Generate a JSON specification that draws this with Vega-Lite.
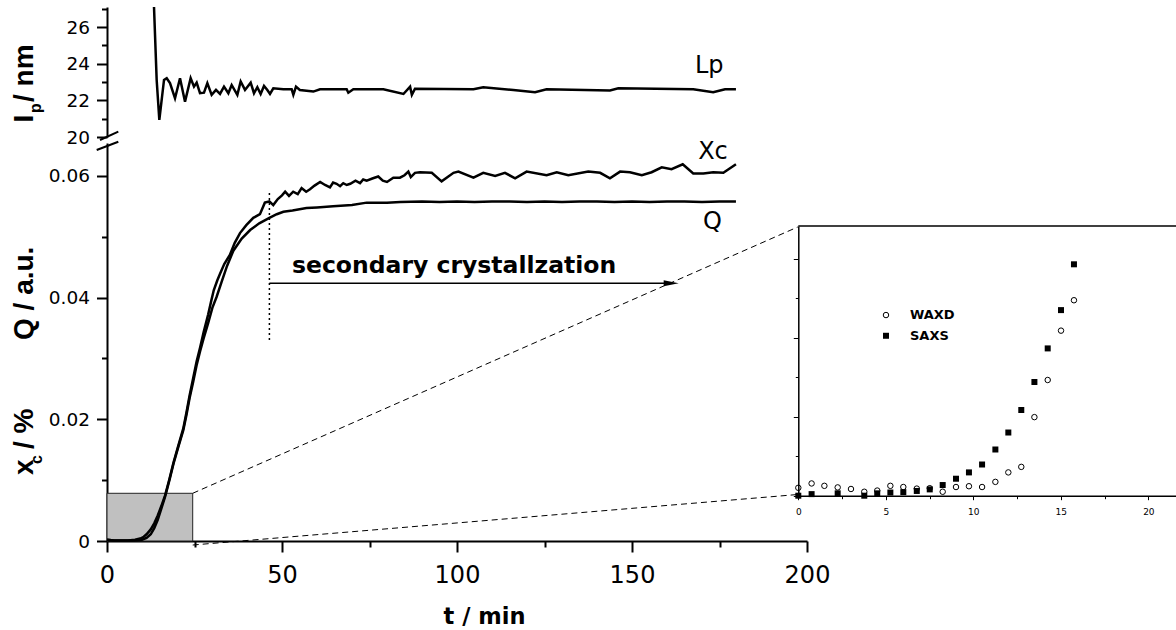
{
  "$schema": "https://vega.github.io/schema/vega-lite/v6.json",
  "width": 1069,
  "height": 541,
  "autosize": {"type": "none"},
  "padding": {"left": 107, "top": 0, "right": 0, "bottom": 89},
  "background": "white",
  "config": {
    "view": {"stroke": null},
    "axis": {"grid": false, "domainColor": "#000", "tickColor": "#000", "labelColor": "#000", "labelFont": "DejaVu Sans", "labelFlush": false, "labelOverlap": false},
    "text": {"font": "DejaVu Sans", "color": "#000"},
    "line": {"color": "#000"},
    "rule": {"color": "#000"}
  },
  "datasets": {
    "xc": [
      {"t":0,"v":0.0002},{"t":2,"v":0.0001},{"t":4,"v":0.0001},{"t":6,"v":0.0001},{"t":8,"v":0.0002},{"t":9.5,"v":0.0004},{"t":10.5,"v":0.0007},{"t":11.3,"v":0.0011},{"t":12.5,"v":0.0019},{"t":13.5,"v":0.0029},{"t":14.5,"v":0.0042},{"t":15.5,"v":0.0057},{"t":16.6,"v":0.0075},{"t":17.8,"v":0.0101},{"t":19,"v":0.0129},{"t":20.4,"v":0.0157},{"t":21.8,"v":0.0185},{"t":22.7,"v":0.0211},{"t":23.6,"v":0.0239},{"t":24.6,"v":0.0267},{"t":25.6,"v":0.0295},{"t":26.6,"v":0.0318},{"t":27.6,"v":0.0343},{"t":28.9,"v":0.0372},{"t":29.8,"v":0.0395},{"t":30.5,"v":0.0412},{"t":31.5,"v":0.0428},{"t":32.3,"v":0.0439},{"t":33.5,"v":0.0455},{"t":35.1,"v":0.047},{"t":36.5,"v":0.049},{"t":38,"v":0.0506},{"t":39.8,"v":0.0519},{"t":41.8,"v":0.0531},{"t":43.7,"v":0.0537},{"t":45.1,"v":0.0556},{"t":46.4,"v":0.0558},{"t":47.5,"v":0.0552},{"t":48.8,"v":0.0562},{"t":50,"v":0.0568},{"t":50.9,"v":0.0574},{"t":52,"v":0.0567},{"t":53.2,"v":0.0574},{"t":54.5,"v":0.057},{"t":55.6,"v":0.058},{"t":56.9,"v":0.0574},{"t":58,"v":0.0578},{"t":59.3,"v":0.0584},{"t":60.9,"v":0.059},{"t":62.3,"v":0.0585},{"t":63.7,"v":0.0581},{"t":64.6,"v":0.0589},{"t":65.6,"v":0.0587},{"t":66.6,"v":0.0583},{"t":67.5,"v":0.0588},{"t":68.5,"v":0.0585},{"t":69.5,"v":0.0587},{"t":71,"v":0.0592},{"t":72.3,"v":0.0588},{"t":73.2,"v":0.0594},{"t":74.2,"v":0.0592},{"t":76,"v":0.0596},{"t":77.5,"v":0.0599},{"t":78.8,"v":0.0592},{"t":80,"v":0.059},{"t":81.8,"v":0.0597},{"t":83.7,"v":0.0597},{"t":85,"v":0.0601},{"t":86.1,"v":0.0607},{"t":86.8,"v":0.0598},{"t":88,"v":0.0605},{"t":89.4,"v":0.0606},{"t":92.8,"v":0.0605},{"t":95.6,"v":0.0591},{"t":99,"v":0.0605},{"t":100.4,"v":0.0607},{"t":104.7,"v":0.0597},{"t":107.5,"v":0.0605},{"t":110.9,"v":0.06},{"t":113.7,"v":0.0605},{"t":116.6,"v":0.0596},{"t":119.9,"v":0.0607},{"t":125.6,"v":0.0601},{"t":128.5,"v":0.0606},{"t":131.8,"v":0.0601},{"t":137.5,"v":0.0607},{"t":140.9,"v":0.0605},{"t":143.7,"v":0.0596},{"t":146.6,"v":0.0607},{"t":149.4,"v":0.0606},{"t":152.8,"v":0.0601},{"t":155.6,"v":0.0606},{"t":158.5,"v":0.0614},{"t":161.3,"v":0.0611},{"t":164.5,"v":0.0619},{"t":167.5,"v":0.0604},{"t":170.4,"v":0.0604},{"t":173.2,"v":0.0606},{"t":176.1,"v":0.0605},{"t":179.7,"v":0.0619}
    ],
    "q": [
      {"t":0,"v":0.0002},{"t":2,"v":0.0001},{"t":4,"v":0.0001},{"t":6,"v":0.0001},{"t":8,"v":0.0001},{"t":10,"v":0.0002},{"t":11.3,"v":0.0005},{"t":12.5,"v":0.0011},{"t":13.5,"v":0.0021},{"t":14.5,"v":0.0035},{"t":15.5,"v":0.0053},{"t":16.6,"v":0.0073},{"t":17.8,"v":0.0099},{"t":19,"v":0.0127},{"t":20.4,"v":0.0155},{"t":21.8,"v":0.0182},{"t":22.7,"v":0.0207},{"t":23.6,"v":0.0235},{"t":24.6,"v":0.0261},{"t":25.6,"v":0.0289},{"t":26.6,"v":0.0312},{"t":27.6,"v":0.0333},{"t":28.9,"v":0.0358},{"t":30.1,"v":0.0383},{"t":31.3,"v":0.0401},{"t":32.7,"v":0.0425},{"t":34.3,"v":0.0452},{"t":36.1,"v":0.0477},{"t":38.5,"v":0.0497},{"t":40.9,"v":0.0511},{"t":43.5,"v":0.0522},{"t":46.4,"v":0.0531},{"t":48.5,"v":0.0537},{"t":50.4,"v":0.0541},{"t":53,"v":0.0543},{"t":57,"v":0.0547},{"t":60,"v":0.0548},{"t":64.6,"v":0.055},{"t":70,"v":0.0552},{"t":74.2,"v":0.0556},{"t":80,"v":0.0556},{"t":83.8,"v":0.0557},{"t":90,"v":0.0558},{"t":95,"v":0.0557},{"t":100,"v":0.0558},{"t":105,"v":0.0557},{"t":110,"v":0.0558},{"t":115,"v":0.0558},{"t":120,"v":0.0557},{"t":125,"v":0.0558},{"t":130,"v":0.0557},{"t":135,"v":0.0558},{"t":140,"v":0.0558},{"t":145,"v":0.0557},{"t":150,"v":0.0558},{"t":155,"v":0.0557},{"t":160,"v":0.0558},{"t":165,"v":0.0558},{"t":170,"v":0.0557},{"t":175,"v":0.0558},{"t":179.7,"v":0.0558}
    ],
    "lp": [
      {"t":13.43,"lp":27.1},{"t":14.19,"lp":23.12},{"t":14.95,"lp":20.93},{"t":16.29,"lp":23.12},{"t":17.05,"lp":23.21},{"t":18.0,"lp":22.94},{"t":19.43,"lp":22.12},{"t":20.86,"lp":23.21},{"t":22.29,"lp":21.93},{"t":23.9,"lp":23.21},{"t":24.86,"lp":22.75},{"t":25.62,"lp":22.97},{"t":26.57,"lp":22.39},{"t":27.71,"lp":22.42},{"t":28.67,"lp":22.94},{"t":29.9,"lp":22.3},{"t":31.14,"lp":22.57},{"t":32.29,"lp":22.35},{"t":33.43,"lp":22.75},{"t":34.67,"lp":22.39},{"t":35.62,"lp":22.84},{"t":37.24,"lp":22.3},{"t":38.19,"lp":23.03},{"t":39.43,"lp":22.57},{"t":41.05,"lp":22.97},{"t":42.0,"lp":22.39},{"t":42.95,"lp":22.72},{"t":43.9,"lp":22.35},{"t":44.86,"lp":22.79},{"t":45.81,"lp":22.57},{"t":46.57,"lp":22.35},{"t":47.52,"lp":22.66},{"t":50.38,"lp":22.61},{"t":52.76,"lp":22.61},{"t":53.24,"lp":22.3},{"t":54.0,"lp":22.75},{"t":55.1,"lp":22.57},{"t":58.95,"lp":22.48},{"t":60.86,"lp":22.61},{"t":68.48,"lp":22.61},{"t":68.95,"lp":22.42},{"t":70.38,"lp":22.61},{"t":78.95,"lp":22.61},{"t":84.7,"lp":22.35},{"t":86.6,"lp":22.75},{"t":87.1,"lp":22.3},{"t":88.0,"lp":22.64},{"t":104.7,"lp":22.61},{"t":107.5,"lp":22.72},{"t":116.1,"lp":22.57},{"t":122.3,"lp":22.44},{"t":125.6,"lp":22.61},{"t":143.7,"lp":22.54},{"t":146.1,"lp":22.66},{"t":167.5,"lp":22.61},{"t":173.2,"lp":22.44},{"t":176.6,"lp":22.61},{"t":179.7,"lp":22.61}
    ],
    "waxd": [
      {"x":0,"y":0.2},{"x":0.76,"y":0.31},{"x":1.49,"y":0.25},{"x":2.25,"y":0.21},{"x":3.01,"y":0.17},{"x":3.77,"y":0.1},{"x":4.51,"y":0.13},{"x":5.26,"y":0.25},{"x":6.0,"y":0.22},{"x":6.77,"y":0.18},{"x":7.51,"y":0.19},{"x":8.25,"y":0.1},{"x":9.01,"y":0.22},{"x":9.75,"y":0.24},{"x":10.5,"y":0.22},{"x":11.26,"y":0.35},{"x":12.0,"y":0.59},{"x":12.74,"y":0.73},{"x":13.49,"y":1.99},{"x":14.25,"y":2.93},{"x":15.01,"y":4.18},{"x":15.75,"y":4.95}
    ],
    "saxs": [
      {"x":0,"y":0.0},{"x":0.76,"y":0.04},{"x":2.25,"y":0.06},{"x":3.77,"y":0.0},{"x":4.51,"y":0.06},{"x":5.26,"y":0.08},{"x":6.0,"y":0.09},{"x":6.77,"y":0.12},{"x":7.51,"y":0.16},{"x":8.25,"y":0.27},{"x":9.01,"y":0.43},{"x":9.75,"y":0.59},{"x":10.5,"y":0.79},{"x":11.26,"y":1.17},{"x":12.0,"y":1.6},{"x":12.74,"y":2.17},{"x":13.49,"y":2.88},{"x":14.25,"y":3.73},{"x":15.01,"y":4.7},{"x":15.75,"y":5.86}
    ]
  },
  "layer": [
    {
      "layer": [
        {
          "data": {"values": [{"t": 0, "t2": 24.49, "v": 0, "v2": 0.00784}]},
          "mark": {"type": "rect", "fill": "#c0c0c0", "stroke": "#222", "strokeWidth": 1},
          "encoding": {
            "x": {"field": "t", "type": "quantitative",
              "scale": {"domain": [0, 200], "range": [0, 700], "nice": false, "zero": false},
              "axis": {"orient": "bottom", "values": [0,25,50,75,100,125,150,175,200],
                "labelExpr": "datum.value % 50 === 0 ? format(datum.value, 'd') : ''",
                "tickSize": {"condition": {"test": "datum.value % 50 === 0", "value": 11}, "value": 6},
                "labelFontSize": 24, "labelPadding": 11, "domainWidth": 2, "tickWidth": 2,
                "title": "t / min", "titleFont": "DejaVu Sans", "titleFontWeight": "bold", "titleFontSize": 22.5,
                "titleX": 377, "titleY": 82, "titleBaseline": "alphabetic", "titleAlign": "center", "titleColor": "#000"}},
            "x2": {"field": "t2"},
            "y": {"field": "v", "type": "quantitative",
              "scale": {"domain": [0, 0.0654], "range": [541, 143], "nice": false, "zero": false},
              "axis": {"orient": "left", "values": [0,0.01,0.02,0.03,0.04,0.05,0.06],
                "labelExpr": "round(datum.value*100) % 2 === 0 ? (datum.value === 0 ? '0' : format(datum.value, '.2f')) : ''",
                "tickSize": {"condition": {"test": "round(datum.value*100) % 2 === 0", "value": 10.5}, "value": 5.5},
                "labelFontSize": 18.5, "labelPadding": 7, "domainWidth": 2, "tickWidth": 2, "title": null}},
            "y2": {"field": "v2"}
          }
        },
        {
          "data": {"values": [{"t": 24.49, "v": 0.00784, "t2": 197.37, "v2": 0.0516}, {"t": 24.49, "v": -0.00066, "t2": 197.37, "v2": 0.00764}]},
          "mark": {"type": "rule", "strokeDash": [6, 4], "strokeWidth": 1},
          "encoding": {
            "x": {"field": "t", "type": "quantitative"}, "x2": {"field": "t2"},
            "y": {"field": "v", "type": "quantitative"}, "y2": {"field": "v2"}
          }
        },
        {
          "data": {"name": "q"},
          "mark": {"type": "line", "strokeWidth": 2.5, "color": "#000"},
          "encoding": {
            "x": {"field": "t", "type": "quantitative"},
            "y": {"field": "v", "type": "quantitative"}
          }
        },
        {
          "data": {"name": "xc"},
          "mark": {"type": "line", "strokeWidth": 2.5, "color": "#000"},
          "encoding": {
            "x": {"field": "t", "type": "quantitative"},
            "y": {"field": "v", "type": "quantitative"}
          }
        },
        {
          "data": {"values": [{"t": 46.4, "v": 0.03303, "v2": 0.05718}]},
          "mark": {"type": "rule", "strokeDash": [2, 3], "strokeWidth": 1.5},
          "encoding": {
            "x": {"field": "t", "type": "quantitative"},
            "y": {"field": "v", "type": "quantitative"}, "y2": {"field": "v2"}
          }
        },
        {
          "data": {"values": [{"t": 46.4, "t2": 161.2, "v": 0.04234}]},
          "mark": {"type": "rule", "strokeWidth": 1.5},
          "encoding": {
            "x": {"field": "t", "type": "quantitative"}, "x2": {"field": "t2"},
            "y": {"field": "v", "type": "quantitative"}
          }
        },
        {
          "data": {"values": [{"t": 161.2, "v": 0.04234}]},
          "mark": {"type": "point", "shape": "M-1,-0.4L1,0L-1,0.4Z", "filled": true, "size": 225, "color": "#000", "opacity": 1},
          "encoding": {
            "x": {"field": "t", "type": "quantitative"},
            "y": {"field": "v", "type": "quantitative"}
          }
        },
        {
          "data": {"values": [{"t": 52.86, "v": 0.04408, "label": "secondary crystallzation"}]},
          "mark": {"type": "text", "align": "left", "baseline": "alphabetic", "fontSize": 23.5, "fontWeight": "bold", "font": "DejaVu Sans"},
          "encoding": {
            "x": {"field": "t", "type": "quantitative"},
            "y": {"field": "v", "type": "quantitative"},
            "text": {"field": "label"}
          }
        },
        {
          "data": {"values": [{"t": 168.9, "v": 0.06272, "label": "Xc"}, {"t": 170.3, "v": 0.05123, "label": "Q"}]},
          "mark": {"type": "text", "align": "left", "baseline": "alphabetic", "fontSize": 24, "font": "DejaVu Sans"},
          "encoding": {
            "x": {"field": "t", "type": "quantitative"},
            "y": {"field": "v", "type": "quantitative"},
            "text": {"field": "label"}
          }
        },
        {
          "data": {"values": [{"t": -21.14, "v": 0.03303, "label": "Q / a.u."}, {"t": -21.14, "v": 0.01084, "label": "x"}, {"t": -21.14, "v": 0.01512, "label": "/ %"}]},
          "mark": {"type": "text", "align": "left", "baseline": "alphabetic", "angle": 270, "fontSize": 28, "fontWeight": "bold", "font": "Liberation Sans"},
          "encoding": {
            "x": {"field": "t", "type": "quantitative"},
            "y": {"field": "v", "type": "quantitative"},
            "text": {"field": "label"}
          }
        },
        {
          "data": {"values": [{"t": -18.57, "v": 0.01265, "label": "c"}]},
          "mark": {"type": "text", "align": "left", "baseline": "alphabetic", "angle": 270, "fontSize": 16, "fontWeight": "bold", "font": "Liberation Sans"},
          "encoding": {
            "x": {"field": "t", "type": "quantitative"},
            "y": {"field": "v", "type": "quantitative"},
            "text": {"field": "label"}
          }
        }
      ]
    },
    {
      "layer": [
        {
          "data": {"name": "lp"},
          "mark": {"type": "line", "strokeWidth": 2.5, "color": "#000"},
          "encoding": {
            "x": {"field": "t", "type": "quantitative", "scale": {"domain": [0, 200], "range": [0, 700], "nice": false, "zero": false}, "axis": null},
            "y": {"field": "lp", "type": "quantitative",
              "scale": {"domain": [20, 27.1], "range": [137, 7], "nice": false, "zero": false},
              "axis": {"orient": "left", "values": [20,21,22,23,24,25,26,27],
                "labelExpr": "datum.value % 2 === 0 ? format(datum.value, 'd') : ''",
                "tickSize": {"condition": {"test": "datum.value % 2 === 0", "value": 10.5}, "value": 5.5},
                "labelFontSize": 18.5, "labelPadding": 7, "domainWidth": 2, "tickWidth": 2, "title": null}}
          }
        },
        {
          "data": {"values": [{"t": 168, "lp": 23.485, "label": "Lp"}]},
          "mark": {"type": "text", "align": "left", "baseline": "alphabetic", "fontSize": 24, "font": "DejaVu Sans"},
          "encoding": {
            "x": {"field": "t", "type": "quantitative", "axis": null},
            "y": {"field": "lp", "type": "quantitative"},
            "text": {"field": "label"}
          }
        },
        {
          "data": {"values": [{"t": -2.0, "t2": 3.23, "lp": 19.836, "lp2": 20.29}, {"t": -2.94, "t2": 3.23, "lp": 19.289, "lp2": 19.743}]},
          "mark": {"type": "rule", "strokeWidth": 2},
          "encoding": {
            "x": {"field": "t", "type": "quantitative", "axis": null}, "x2": {"field": "t2"},
            "y": {"field": "lp", "type": "quantitative"}, "y2": {"field": "lp2"}
          }
        },
        {
          "data": {"values": [{"t": -21.14, "lp": 20.79, "label": "I"}, {"t": -21.14, "lp": 21.91, "label": "/ nm"}]},
          "mark": {"type": "text", "align": "left", "baseline": "alphabetic", "angle": 270, "fontSize": 28, "fontWeight": "bold", "font": "Liberation Sans"},
          "encoding": {
            "x": {"field": "t", "type": "quantitative", "axis": null},
            "y": {"field": "lp", "type": "quantitative"},
            "text": {"field": "label"}
          }
        },
        {
          "data": {"values": [{"t": -18.86, "lp": 21.31, "label": "p"}]},
          "mark": {"type": "text", "align": "left", "baseline": "alphabetic", "angle": 270, "fontSize": 16, "fontWeight": "bold", "font": "Liberation Sans"},
          "encoding": {
            "x": {"field": "t", "type": "quantitative", "axis": null},
            "y": {"field": "lp", "type": "quantitative"},
            "text": {"field": "label"}
          }
        }
      ]
    },
    {
      "layer": [
        {
          "data": {"name": "waxd"},
          "mark": {"type": "point", "shape": "circle", "filled": false, "size": 30, "stroke": "#000", "strokeWidth": 1, "opacity": 1},
          "encoding": {
            "x": {"field": "x", "type": "quantitative",
              "scale": {"domain": [0, 21.58], "range": [691.3, 1069], "nice": false, "zero": false},
              "axis": {"orient": "bottom", "offset": -45.3, "values": [0,2.5,5,7.5,10,12.5,15,17.5,20],
                "labelExpr": "datum.value % 5 === 0 ? format(datum.value, 'd') : ''",
                "tickSize": {"condition": {"test": "datum.value % 5 === 0", "value": 4}, "value": 3},
                "labelFontSize": 9, "labelPadding": 8, "domainWidth": 1.5, "tickWidth": 1, "title": null}},
            "y": {"field": "y", "type": "quantitative",
              "scale": {"domain": [0, 6.83], "range": [495.7, 226], "nice": false, "zero": false},
              "axis": {"orient": "left", "offset": -691.3, "values": [0,1,2,3,4,5,6], "labels": false,
                "tickSize": {"condition": {"test": "datum.value % 2 === 0", "value": 5}, "value": 3},
                "domainWidth": 1.5, "tickWidth": 1, "title": null}}
          }
        },
        {
          "data": {"name": "saxs"},
          "mark": {"type": "point", "shape": "square", "filled": true, "size": 36, "color": "#000", "opacity": 1},
          "encoding": {
            "x": {"field": "x", "type": "quantitative"},
            "y": {"field": "y", "type": "quantitative"}
          }
        },
        {
          "data": {"values": [{"x": 0, "x2": 21.58, "y": 6.83}]},
          "mark": {"type": "rule", "strokeWidth": 1.5},
          "encoding": {
            "x": {"field": "x", "type": "quantitative"}, "x2": {"field": "x2"},
            "y": {"field": "y", "type": "quantitative"}
          }
        },
        {
          "data": {"values": [{"x": 5.01, "y": 4.575}]},
          "mark": {"type": "point", "shape": "circle", "filled": false, "size": 30, "stroke": "#000", "strokeWidth": 1, "opacity": 1},
          "encoding": {
            "x": {"field": "x", "type": "quantitative"},
            "y": {"field": "y", "type": "quantitative"}
          }
        },
        {
          "data": {"values": [{"x": 5.01, "y": 4.05}]},
          "mark": {"type": "point", "shape": "square", "filled": true, "size": 36, "color": "#000", "opacity": 1},
          "encoding": {
            "x": {"field": "x", "type": "quantitative"},
            "y": {"field": "y", "type": "quantitative"}
          }
        },
        {
          "data": {"values": [{"x": 6.38, "y": 4.575, "label": "WAXD"}, {"x": 6.38, "y": 4.04, "label": "SAXS"}]},
          "mark": {"type": "text", "align": "left", "baseline": "middle", "fontSize": 13, "fontWeight": "bold", "font": "DejaVu Sans"},
          "encoding": {
            "x": {"field": "x", "type": "quantitative"},
            "y": {"field": "y", "type": "quantitative"},
            "text": {"field": "label"}
          }
        }
      ]
    }
  ],
  "resolve": {"scale": {"x": "independent", "y": "independent"}, "axis": {"x": "independent", "y": "independent"}}
}
